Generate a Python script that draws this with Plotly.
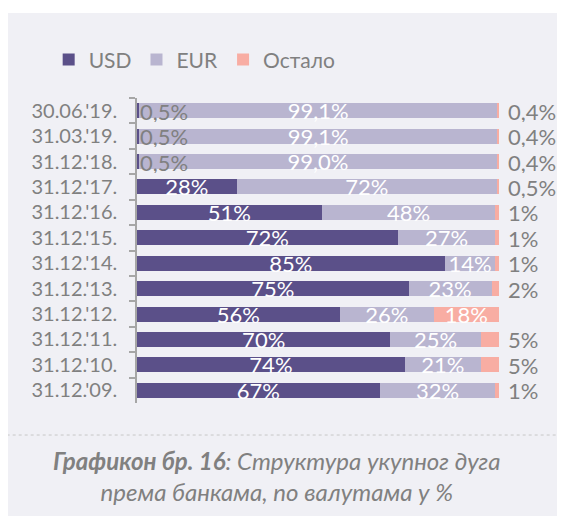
import plotly.graph_objects as go

# датуми, одозго надоле
dates = ["30.06.'19.", "31.03.'19.", "31.12.'18.", "31.12.'17.", "31.12.'16.", "31.12.'15.",
         "31.12.'14.", "31.12.'13.", "31.12.'12.", "31.12.'11.", "31.12.'10.", "31.12.'09."]
usd = [0.5, 0.5, 0.5, 27.5, 51, 72, 85, 75, 56, 70, 74, 67]
eur = [99.1, 99.1, 99.0, 72, 48, 27, 14, 23, 26, 25, 21, 32]
other = [0.4, 0.4, 0.4, 0.5, 1, 1, 1, 2, 18, 5, 5, 1]

usd_lbl = ["0,5%", "0,5%", "0,5%", "28%", "51%", "72%", "85%", "75%", "56%", "70%", "74%", "67%"]
eur_lbl = ["99,1%", "99,1%", "99,0%", "72%", "48%", "27%", "14%", "23%", "26%", "25%", "21%", "32%"]
oth_lbl = ["0,4%", "0,4%", "0,4%", "0,5%", "1%", "1%", "1%", "2%", "18%", "5%", "5%", "1%"]

C_USD = "#5b5089"
C_EUR = "#b9b5d0"
C_OTH = "#f8ada3"
PANEL = "#f0f0f5"
GREY = "#808080"
FONT = "Lato"

# мале вредности иду ван траке, сиво
usd_in = [t if v >= 5 else "" for t, v in zip(usd_lbl, usd)]
oth_in = [t if v >= 10 else "" for t, v in zip(oth_lbl, other)]

fig = go.Figure()
for name, vals, txt, col in [("USD", usd, usd_in, C_USD),
                             ("EUR", eur, eur_lbl, C_EUR),
                             ("Остало", other, oth_in, C_OTH)]:
    fig.add_trace(go.Bar(
        y=dates, x=vals, name=name, orientation="h",
        marker=dict(color=col, line=dict(width=0)),
        text=txt, textposition="inside", insidetextanchor="middle",
        textangle=0, constraintext="none",
        textfont=dict(color="white", size=22, family=FONT),
        hoverinfo="skip",
    ))

annotations = []
for d, u, ul in zip(dates, usd, usd_lbl):
    if u < 5:
        annotations.append(dict(x=u, y=d, xref="x", yref="y", text=ul, showarrow=False,
                                xanchor="left", xshift=0, height=22, borderpad=0,
                                font=dict(color=GREY, size=22, family=FONT)))
for d, u, e, o, ol in zip(dates, usd, eur, other, oth_lbl):
    if o < 10:
        annotations.append(dict(x=u + e + o, y=d, xref="x", yref="y", text=ol, showarrow=False,
                                xanchor="left", xshift=8, height=22, borderpad=0,
                                font=dict(color=GREY, size=22, family=FONT)))

annotations.append(dict(
    x=0.386, y=-0.239, xref="paper", yref="paper", showarrow=False,
    xanchor="center", yanchor="middle", align="center",
    text="<b><i>Графикон бр. 16</i></b><i>: Структура укупног дуга<br>према банкама, по валутама у %</i>",
    font=dict(color=GREY, size=24, family=FONT),
))

shapes = [
    # сива површина
    dict(type="rect", xref="paper", yref="paper", x0=-0.36, x1=1.2, y0=-0.4, y1=1.279,
         fillcolor=PANEL, line=dict(width=0), layer="below"),
    # тачкаста линија изнад наслова
    dict(type="line", xref="paper", yref="paper", x0=-0.36, x1=1.2, y0=-0.105, y1=-0.105,
         line=dict(color="#c8c8c8", width=1, dash="dot"), layer="above"),
]

fig.update_layout(
    width=557, height=508,
    margin=dict(l=129, r=66, t=90, b=113),
    barmode="stack", bargap=0.41,
    paper_bgcolor="white", plot_bgcolor=PANEL,
    font=dict(family=FONT, color=GREY),
    showlegend=True,
    legend=dict(orientation="h", x=-0.244, y=1.125, xanchor="left", yanchor="middle",
                font=dict(size=21, color=GREY, family=FONT), bgcolor="rgba(0,0,0,0)",
                traceorder="normal", itemwidth=30),
    xaxis=dict(range=[0, 100], visible=False, fixedrange=True),
    yaxis=dict(autorange="reversed", showline=True, linecolor="#a6a6a6", linewidth=1.5,
               ticks="outside", tickson="boundaries", ticklen=6, tickcolor="#a6a6a6",
               tickwidth=1.5, ticklabelstandoff=14, showgrid=False,
               tickfont=dict(size=20, color=GREY, family=FONT)),
    annotations=annotations,
    shapes=shapes,
)

fig.write_html("out.html")
